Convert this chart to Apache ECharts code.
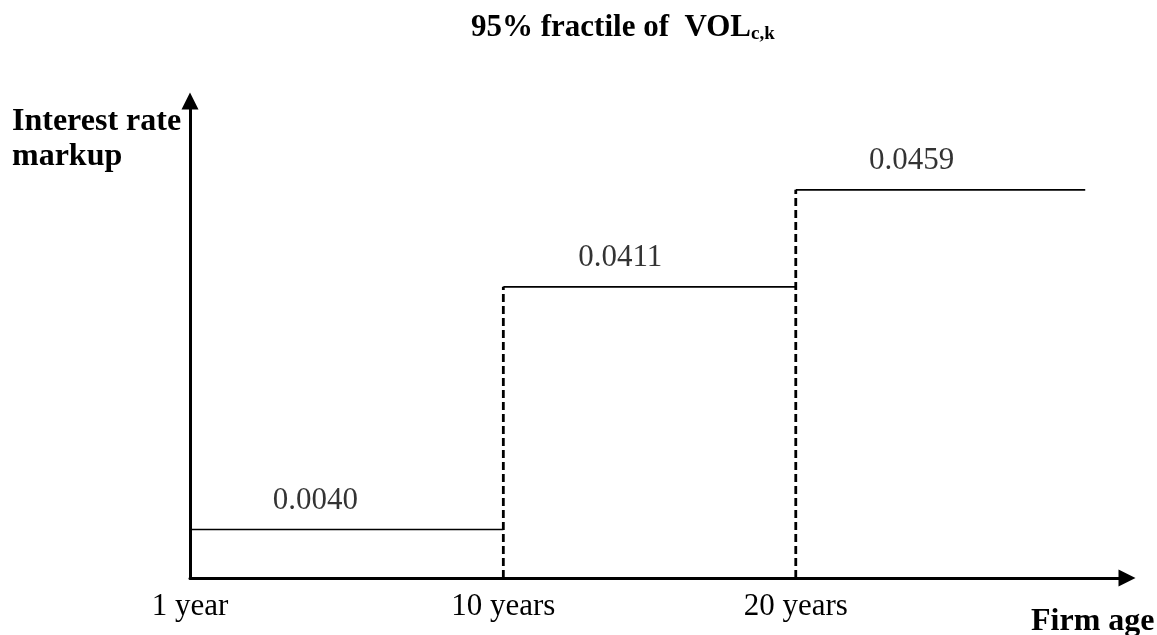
<!DOCTYPE html>
<html>
<head>
<meta charset="utf-8">
<script src="https://cdn.jsdelivr.net/npm/echarts@6/dist/echarts.min.js"></script>
<style>
html,body{margin:0;padding:0;background:#ffffff;}
#chart{width:1157px;height:635px;}
</style>
</head>
<body>
<div id="chart"></div>
<script>
// Schematic step chart: firm-age brackets vs interest rate markup
const ageTickLabels = ['1 year', '10 years', '20 years'];
const segmentEdges = [0, 1.05, 2.03, 3];     // schematic x positions of bracket edges (as drawn)
const stepLevels = [1, 6, 8];                // schematic drawn heights of each step
const markupLabels = ['0.0040', '0.0411', '0.0459'];

const FONT = '"Liberation Serif", "Times New Roman", Times, serif';
const chart = echarts.init(document.getElementById('chart'), null, {renderer: 'canvas'});

const series = [];
// horizontal steps
stepLevels.forEach(function (lv, i) {
  series.push({
    type: 'line',
    data: [[segmentEdges[i], lv], [segmentEdges[i + 1], lv]],
    symbol: 'none',
    silent: true,
    lineStyle: {color: '#000', width: 1.7, type: 'solid'}
  });
});
// dashed vertical jumps at the age boundaries
for (let i = 1; i < stepLevels.length; i++) {
  series.push({
    type: 'line',
    data: [[segmentEdges[i], 0], [segmentEdges[i], stepLevels[i]]],
    symbol: 'none',
    silent: true,
    lineStyle: {color: '#000', width: 2.8, type: [8, 4]}
  });
}
// value labels above each step
series.push({
  type: 'scatter',
  symbolSize: 0,
  silent: true,
  data: stepLevels.map(function (lv, i) {
    const a = segmentEdges[i], b = segmentEdges[i + 1];
    return {value: [a + 0.4 * (b - a), lv], label: {formatter: markupLabels[i], color: '#000'}};
  }),
  label: {
    show: true,
    position: 'top',
    distance: 13,
    color: '#000',
    fontFamily: FONT,
    fontSize: 31
  }
});

const labelEdges = segmentEdges.slice(0, ageTickLabels.length);

chart.setOption({
  animation: false,
  backgroundColor: '#ffffff',
  title: [
    {
      text: '{m|95% fractile of  VOL}{s|c,k}',
      left: 471,
      top: 11,
      padding: 0,
      textStyle: {
        rich: {
          m: {fontFamily: FONT, fontWeight: 'bold', fontSize: 31, color: '#000'},
          s: {fontFamily: FONT, fontWeight: 'bold', fontSize: 19, color: '#000', padding: [14, 0, 0, 0]}
        }
      }
    },
    {
      text: 'Interest rate\nmarkup',
      left: 12,
      top: 104,
      padding: 0,
      textStyle: {fontFamily: FONT, fontWeight: 'bold', fontSize: 32, lineHeight: 35, color: '#000'}
    },
    {
      text: 'Firm age',
      left: 1031,
      top: 606,
      padding: 0,
      textStyle: {fontFamily: FONT, fontWeight: 'bold', fontSize: 32, color: '#000'}
    }
  ],
  grid: {left: 190, right: 30, top: 101, bottom: 57, containLabel: false},
  xAxis: {
    type: 'value',
    min: 0,
    max: 3.14,
    axisLine: {
      show: true,
      onZero: false,
      symbol: ['none', 'triangle'],
      symbolSize: [17, 17],
      lineStyle: {color: '#000', width: 3}
    },
    axisTick: {show: false},
    splitLine: {show: false},
    axisLabel: {
      show: true,
      customValues: labelEdges,
      margin: 13,
      color: '#000',
      fontFamily: FONT,
      fontSize: 31,
      formatter: function (v) {
        let best = -1, bd = 1e9;
        labelEdges.forEach(function (e, i) {
          const d = Math.abs(e - v);
          if (d < bd) { bd = d; best = i; }
        });
        return bd < 0.01 ? ageTickLabels[best] : '';
      }
    }
  },
  yAxis: {
    type: 'value',
    min: 0,
    max: 9.83,
    axisLine: {
      show: true,
      onZero: false,
      symbol: ['none', 'triangle'],
      symbolSize: [17, 17],
      lineStyle: {color: '#000', width: 3}
    },
    axisTick: {show: false},
    axisLabel: {show: false},
    splitLine: {show: false}
  },
  series: series
});
</script>
</body>
</html>
